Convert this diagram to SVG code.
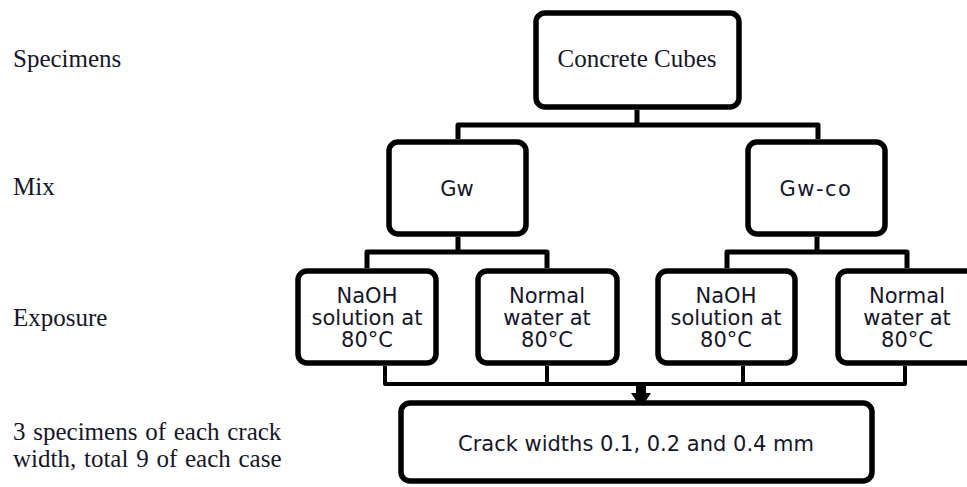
<svg xmlns="http://www.w3.org/2000/svg" width="967" height="487" viewBox="0 0 967 487">
  <style>
    .box { fill: #ffffff; stroke: #000000; stroke-width: 5.5; }
    .wire { fill: none; stroke: #000000; stroke-linejoin: round; }
    .serif { font-family: "Liberation Serif", "Times New Roman", serif; font-size: 25px; fill: #16162a; }
    .sans { font-family: "DejaVu Sans", Verdana, sans-serif; font-size: 21px; fill: #16162a; text-anchor: middle; }
  </style>
  <rect width="967" height="487" fill="#ffffff"/>

  <!-- row labels -->
  <g id="labels">
    <text class="serif" x="13" y="67">Specimens</text>
    <text class="serif" x="13" y="195">Mix</text>
    <text class="serif" x="13" y="326">Exposure</text>
    <text class="serif" x="13" y="440" word-spacing="1.5">3 specimens of each crack</text>
    <text class="serif" x="13" y="467" word-spacing="1.5">width, total 9 of each case</text>
  </g>

  <!-- connectors -->
  <g id="connectors">
    <path class="wire" stroke-width="5" d="M637 110 V125 M458 139 V125 H818 V139"/>
    <path class="wire" stroke-width="5" d="M458 237 V252 M367 268 V252 H547 V268"/>
    <path class="wire" stroke-width="5" d="M817 237 V252 M727 268 V252 H907 V268"/>
    <path class="wire" stroke-width="4" d="M385 366 V384 H905 V366 M547 366 V384 M743 366 V384"/>
    <polygon fill="#000000" points="636,382 646,382 646,393 651,393 641,408 631,393 636,393"/>
  </g>

  <g id="concrete-cubes">
    <rect class="box" x="536" y="13" width="203" height="94" rx="9"/>
    <text class="serif" x="637" y="67" text-anchor="middle">Concrete Cubes</text>
  </g>

  <g id="mix-gw">
    <rect class="box" x="389" y="142" width="137" height="92" rx="9"/>
    <text class="sans" x="457" y="196">Gw</text>
  </g>

  <g id="mix-gw-co">
    <rect class="box" x="748" y="142" width="137" height="92" rx="9"/>
    <text class="sans" x="816" y="196" letter-spacing="1.5">Gw-co</text>
  </g>

  <g id="gw-naoh">
    <rect class="box" x="298" y="271" width="138" height="92" rx="9"/>
    <text class="sans" x="367" y="303">NaOH</text>
    <text class="sans" x="367" y="325">solution at</text>
    <text class="sans" x="367" y="347">80°C</text>
  </g>

  <g id="gw-water">
    <rect class="box" x="478" y="271" width="139" height="92" rx="9"/>
    <text class="sans" x="547" y="303">Normal</text>
    <text class="sans" x="547" y="325">water at</text>
    <text class="sans" x="547" y="347">80°C</text>
  </g>

  <g id="gwco-naoh">
    <rect class="box" x="658" y="271" width="137" height="92" rx="9"/>
    <text class="sans" x="726" y="303">NaOH</text>
    <text class="sans" x="726" y="325">solution at</text>
    <text class="sans" x="726" y="347">80°C</text>
  </g>

  <g id="gwco-water">
    <rect class="box" x="838" y="271" width="138" height="92" rx="9"/>
    <text class="sans" x="907" y="303">Normal</text>
    <text class="sans" x="907" y="325">water at</text>
    <text class="sans" x="907" y="347">80°C</text>
  </g>

  <g id="crack-widths">
    <rect class="box" x="401" y="403" width="471" height="78" rx="9"/>
    <text class="sans" x="636" y="451">Crack widths 0.1, 0.2 and 0.4 mm</text>
  </g>
</svg>
